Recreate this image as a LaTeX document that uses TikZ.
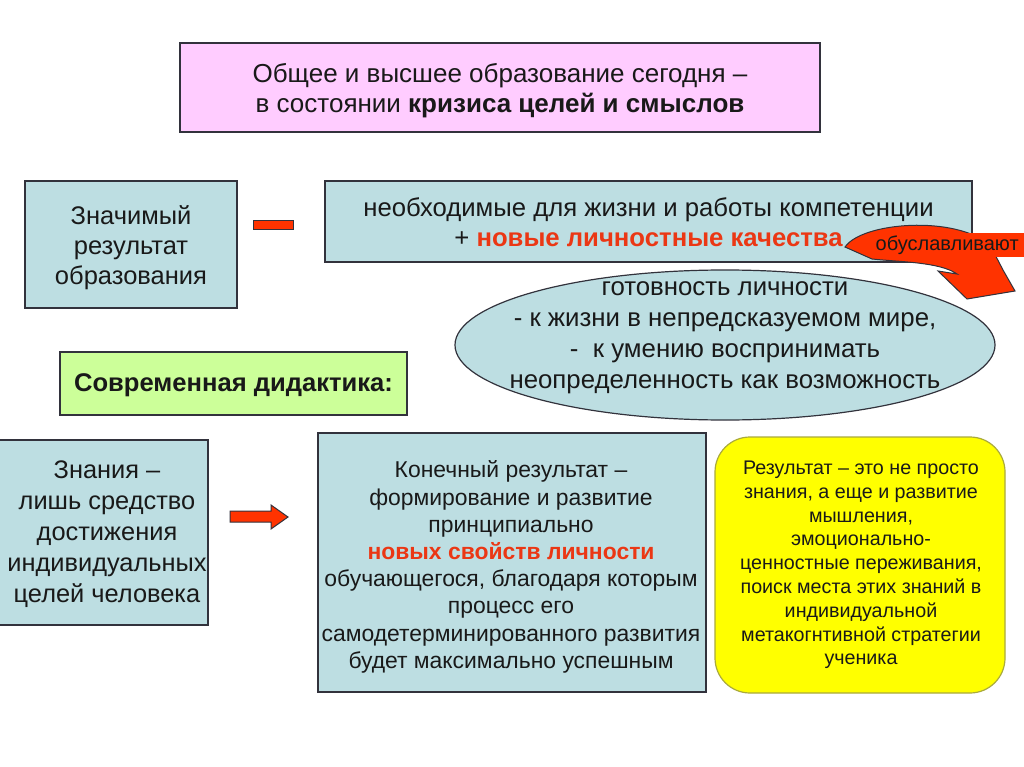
\documentclass[tikz,border=0pt]{standalone}
\usepackage{fontspec}
\setmainfont{Liberation Sans}
\usetikzlibrary{shapes.geometric}
\definecolor{pinkbox}{RGB}{255,204,255}
\definecolor{bluebox}{RGB}{189,222,226}
\definecolor{greenbox}{RGB}{204,255,153}
\definecolor{yellowbox}{RGB}{255,255,0}
\definecolor{yellowedge}{RGB}{170,170,60}
\definecolor{redfill}{RGB}{255,51,0}
\definecolor{redtext}{RGB}{235,55,20}
\definecolor{edge}{RGB}{50,50,60}
\definecolor{ink}{RGB}{25,25,25}
\begin{document}
\begin{tikzpicture}[x=1pt,y=-1pt,
  box/.style={draw=edge, line width=1.2pt, inner sep=0pt},
  txt/.style={align=center, inner sep=0pt, text=ink},
  blockarrow/.style={draw=edge, line width=1pt, fill=redfill}]
\useasboundingbox[fill=white] (0,0) rectangle (1024,767);

% top box
\node[box, fill=pinkbox, minimum width=640, minimum height=89] (top) at (500,87.5) {};
\node[txt, font=\fontsize{26}{30}\selectfont] (toptext) at (500,91)
  {Общее и высшее образование сегодня –\\в состоянии \textbf{кризиса целей и смыслов}};

% left result box
\node[box, fill=bluebox, minimum width=212, minimum height=127] (result) at (131,244.5) {};
\node[txt, font=\fontsize{25.5}{30}\selectfont] (resulttext) at (131,247.5)
  {Значимый\\результат\\образования};

% minus sign
\node[draw=edge, line width=1pt, fill=redfill, minimum width=40, minimum height=9, inner sep=0pt] (minus) at (273,225.5) {};

% top right box
\node[box, fill=bluebox, minimum width=647, minimum height=81] (comp) at (648.5,221.5) {};
\node[txt, font=\fontsize{25.7}{30}\selectfont] (comptext) at (648.5,222.5)
  {необходимые для жизни и работы компетенции\\+ \textbf{\color{redtext}новые личностные качества}};

% ellipse
\node[draw=edge, line width=1.2pt, fill=bluebox, ellipse, minimum width=540, minimum height=150, inner sep=0pt] (ell) at (725,345) {};
\node[txt, font=\fontsize{25.8}{31}\selectfont] (elltext) at (725,337.5)
  {готовность личности\\- к жизни в непредсказуемом мире,\\-\ \ к умению воспринимать\\неопределенность как возможность};

% curved arrow
\path[blockarrow] (845,247) .. controls (862,222) and (955,215) .. (990,245)
  -- (1003,270) -- (1015,291) -- (967,299) -- (938,271) -- (957,274)
  .. controls (940,262) and (900,262) .. (872,259) -- cycle;
\node[fill=redfill, inner sep=0pt, minimum height=23, minimum width=154, anchor=west, text=ink,
      font=\fontsize{20}{22}\selectfont] (lbl) at (870,245) {обуславливают};

% didactics box
\node[box, fill=greenbox, minimum width=347, minimum height=63] (did) at (233.5,383.5) {};
\node[txt, font=\fontsize{25.6}{28}\selectfont\bfseries] (didtext) at (233.5,385.5)
  {Современная дидактика:};

% knowledge box
\node[box, fill=bluebox, minimum width=210, minimum height=185] (know) at (103,532.5) {};
\node[txt, font=\fontsize{25.4}{31}\selectfont] (knowtext) at (107,534.5)
  {Знания –\\лишь средство\\достижения\\индивидуальных\\целей человека};

% right arrow
\path[blockarrow] (230,511) -- (271,511) -- (271,505) -- (288,517) -- (271,529) -- (271,522) -- (230,522) -- cycle;

% final result box
\node[box, fill=bluebox, minimum width=388, minimum height=259] (final) at (512,562.5) {};
\node[txt, font=\fontsize{22.9}{27.2}\selectfont] (finaltext) at (511,567)
  {Конечный результат –\\формирование и развитие\\принципиально\\\textbf{\color{redtext}новых свойств личности}\\обучающегося, благодаря которым\\процесс его\\самодетерминированного развития\\будет максимально успешным};

% yellow box
\node[draw=yellowedge, line width=1.2pt, fill=yellowbox, rounded corners=35pt, inner sep=0pt,
      minimum width=290, minimum height=256] (yel) at (860,565) {};
\node[txt, font=\fontsize{19.7}{23.8}\selectfont] (yeltext) at (861,565)
  {Результат – это не просто\\знания, а еще и развитие\\мышления,\\эмоционально-\\ценностные переживания,\\поиск места этих знаний в\\индивидуальной\\метакогнтивной стратегии\\ученика};
\end{tikzpicture}
\end{document}
